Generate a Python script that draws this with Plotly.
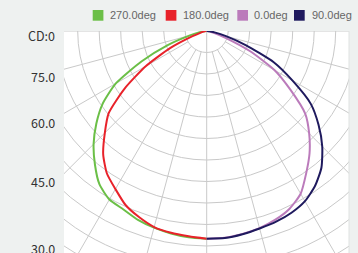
import numpy as np
import plotly.graph_objects as go

# ---- data ----
angles = [0, 5, 10, 15, 20, 25, 30, 35, 40, 45, 50, 55, 60, 65, 70, 75, 80, 85, 90]
series_names = ["270.0deg", "180.0deg", "0.0deg", "90.0deg"]
cd_270 = [96.6, 96.3, 95.6, 94.7, 93.5, 91.6, 90.5, 87.0, 80.9, 74.4, 67.0, 59.1, 48.8, 33.5, 19.5, 8.4, 3.7, 1.4, 0]
cd_180 = [96.6, 95.8, 95.3, 94.4, 92.1, 89.3, 84.9, 80.9, 74.9, 67.0, 59.5, 46.5, 32.6, 18.6, 7.0, 2.8, 1.4, 0.5, 0]
cd_0 = [96.6, 96.5, 95.8, 94.9, 93.4, 91.2, 87.4, 80.7, 74.4, 67.4, 59.8, 47.4, 36.5, 22.3, 9.3, 3.7, 1.4, 0.5, 0]
cd_90 = [96.6, 96.7, 96.0, 95.1, 94.4, 93.3, 91.4, 87.9, 83.0, 76.0, 67.9, 59.1, 46.0, 34.4, 19.5, 9.3, 3.7, 1.4, 0]
angle_labels = ["CD:0", "75.0", "60.0", "45.0", "30.0"]

# ---- styles / layout ----
series_values = [cd_270, cd_180, cd_0, cd_90]
series_side = [-1, -1, 1, 1]          # left half / right half of the diagram
series_colors = ["#6bbf47", "#e8222a", "#bb7bbb", "#1f1a5e"]
label_py = [35, 76.7, 122.7, 181.7, 248.3]
legend_sq_px = [92.7, 165.7, 237.3, 294.0]
legend_tx_px = [108.3, 181.0, 252.0, 309.7]

W, H = 358, 253
ML, MR, MT, MB = 64, 9, 31, 0
PW, PH = W - ML - MR, H - MT - MB
cx_px = 206.7
k = 2.15  # px per unit
xr = [-(cx_px - ML) / k, (W - MR - cx_px) / k]
yr = [-PH / k, 0]

fig = go.Figure()
shapes = []
grid_col = "#c9c9c9"
for r in range(10, 140, 10):
    shapes.append(dict(type="circle", xref="x", yref="y", x0=-r, x1=r, y0=-r, y1=r,
                       line=dict(color=grid_col, width=1), layer="below"))
for a in range(-90, 91, 15):
    t = np.radians(a)
    r0 = 0 if a == 0 else 10
    r1 = 200
    shapes.append(dict(type="line", xref="x", yref="y",
                       x0=r0 * np.sin(t), y0=-r0 * np.cos(t),
                       x1=r1 * np.sin(t), y1=-r1 * np.cos(t),
                       line=dict(color=grid_col, width=1), layer="below"))

for name, vals, side, col in zip(series_names, series_values, series_side, series_colors):
    th = np.radians(np.array(angles, dtype=float))
    rv = np.array(vals, dtype=float)
    fig.add_trace(go.Scatter(x=side * rv * np.sin(th), y=-rv * np.cos(th), mode="lines",
                             name=name, line=dict(color=col, width=2, shape="spline", smoothing=0.6),
                             showlegend=False, hoverinfo="skip"))

annotations = []
for txt, py in zip(angle_labels, label_py):
    annotations.append(dict(text=txt, xref="paper", yref="paper", x=(57 - ML) / PW,
                            y=(H - py) / PH, xanchor="right", yanchor="middle", showarrow=False,
                            font=dict(family="Noto Sans CJK KR", size=12.5, color="#333333")))

sq = 10.7
for name, col, sx, tx in zip(series_names, series_colors, legend_sq_px, legend_tx_px):
    shapes.append(dict(type="rect", xref="paper", yref="paper",
                       x0=(sx - ML) / PW, x1=(sx + sq - ML) / PW,
                       y0=(H - 20.7) / PH, y1=(H - 10) / PH,
                       fillcolor=col, line=dict(width=0)))
    annotations.append(dict(text=name, xref="paper", yref="paper", x=(tx - ML) / PW,
                            y=(H - 15.5) / PH, xanchor="left", yanchor="middle", showarrow=False,
                            font=dict(family="Liberation Sans", size=11, color="#666666")))

# right border of the plot area
shapes.append(dict(type="line", xref="paper", yref="paper", x0=1, x1=1, y0=0, y1=1,
                   line=dict(color="#dfe2e1", width=1)))

fig.update_layout(
    width=W, height=H, autosize=False,
    margin=dict(l=ML, r=MR, t=MT, b=MB, pad=0),
    paper_bgcolor="#eef1f0", plot_bgcolor="#ffffff",
    xaxis=dict(range=xr, visible=False, fixedrange=True),
    yaxis=dict(range=yr, visible=False, fixedrange=True),
    shapes=shapes, annotations=annotations, showlegend=False,
)
fig.write_html("out.html", config=dict(displayModeBar=False),
               post_script="document.body.style.margin='0';document.body.style.overflow='hidden';")
